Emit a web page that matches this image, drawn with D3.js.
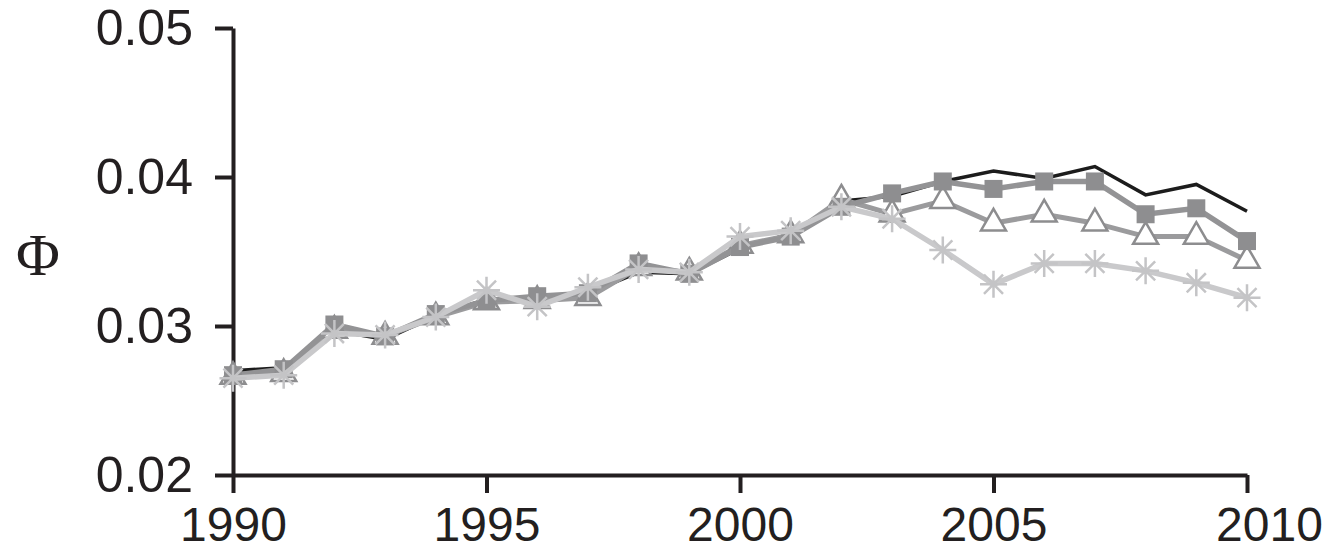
<!DOCTYPE html>
<html>
<head>
<meta charset="utf-8">
<script src="https://cdn.jsdelivr.net/npm/d3@7"></script>
<style>
html,body{margin:0;padding:0;background:#fff;}
svg{display:block;}
</style>
</head>
<body>
<svg id="chart" width="1334" height="552"></svg>
<script>
const years = d3.range(1990, 2011);
const seriesBlack = [0.0270,0.0272,0.0297,0.0291,0.0307,0.0318,0.0318,0.0322,0.0336,0.0335,0.0352,0.0362,0.0384,0.0387,0.0397,0.0404,0.0399,0.0407,0.0388,0.0395,0.0377];
const seriesSquare = [0.0267,0.0271,0.0301,0.0293,0.0308,0.0317,0.0320,0.0322,0.0342,0.0335,0.0353,0.0360,0.0380,0.0389,0.0397,0.0392,0.0397,0.0397,0.0375,0.0379,0.0357];
const seriesTriangle = [0.0266,0.0268,0.0297,0.0293,0.0306,0.0316,0.0317,0.0319,0.0339,0.0336,0.0354,0.0361,0.0385,0.0375,0.0384,0.0369,0.0375,0.0369,0.0360,0.0360,0.0344];
const seriesStar = [0.0265,0.0267,0.0295,0.0294,0.0306,0.0324,0.0313,0.0326,0.0338,0.0336,0.0360,0.0364,0.0380,0.0372,0.0351,0.0328,0.0342,0.0342,0.0337,0.0329,0.0319];
const xTicks = [1990,1995,2000,2005,2010];
const yTicks = [0.02,0.03,0.04,0.05];
const yLabel = "Φ";

const svg = d3.select("#chart");
const x = d3.scaleLinear().domain([1990,2010]).range([233,1247]);
const y = d3.scaleLinear().domain([0.02,0.05]).range([475,28]);

const fontAxis = "'Liberation Sans', Arial, sans-serif";
const ink = "#231f20";

// axes
const yAxis = d3.axisLeft(y).tickValues(yTicks).tickFormat(d3.format(".2f")).tickSize(18).tickSizeOuter(0).tickPadding(22);
const gy = svg.append("g").attr("transform","translate(233,0)").call(yAxis);
const xAxis = d3.axisBottom(x).tickValues(xTicks).tickFormat(d3.format("d")).tickSize(18).tickSizeOuter(0).tickPadding(14);
const gx = svg.append("g").attr("transform","translate(0,475)").call(xAxis);
[gx, gy].forEach(g => {
  g.selectAll(".domain").attr("stroke",ink).attr("stroke-width",4);
  g.selectAll(".tick line").attr("stroke",ink).attr("stroke-width",4);
  g.selectAll(".tick text").attr("fill",ink).style("font-family",fontAxis);
});
gy.selectAll(".tick text").style("font-size","50px");
gx.selectAll(".tick text").style("font-size","48px");
// last year label sits slightly right of its tick in the reference
gx.selectAll(".tick text").filter(d => d === 2010).attr("x", 22);

svg.append("text").attr("x",38).attr("y",255).attr("text-anchor","middle").attr("dominant-baseline","central")
  .style("font-family","'Liberation Serif','Times New Roman',serif").style("font-size","60px").attr("fill",ink).text(yLabel);

const line = d3.line().x((d,i)=>x(years[i])).y(d=>y(d));

// black
svg.append("path").datum(seriesBlack).attr("d",line).attr("fill","none").attr("stroke","#1c1c1c").attr("stroke-width",3.5);

// triangles
svg.append("path").datum(seriesTriangle).attr("d",line).attr("fill","none").attr("stroke","#9b9b9d").attr("stroke-width",5);
const tri = d3.symbol().type(d3.symbolTriangle).size(270);
svg.append("g").selectAll("path").data(seriesTriangle).join("path")
  .attr("d",tri).attr("transform",(d,i)=>`translate(${x(years[i])},${y(d)})`)
  .attr("fill","#fff").attr("stroke","#8d8d8f").attr("stroke-width",2.5);

// squares
svg.append("path").datum(seriesSquare).attr("d",line).attr("fill","none").attr("stroke","#939395").attr("stroke-width",5.5);
svg.append("g").selectAll("rect").data(seriesSquare).join("rect")
  .attr("x",(d,i)=>x(years[i])-9).attr("y",d=>y(d)-9).attr("width",18).attr("height",18)
  .attr("fill","#8e8e90");

// asterisks
svg.append("path").datum(seriesStar).attr("d",line).attr("fill","none").attr("stroke","#c9c9cb").attr("stroke-width",5.5);
const r = 13.5;
const starPath = (() => {
  let p = "";
  for (let k=0;k<4;k++){
    const a = k*Math.PI/4;
    p += `M${-r*Math.cos(a)},${-r*Math.sin(a)}L${r*Math.cos(a)},${r*Math.sin(a)}`;
  }
  return p;
})();
svg.append("g").selectAll("path").data(seriesStar).join("path")
  .attr("d",starPath).attr("transform",(d,i)=>`translate(${x(years[i])},${y(d)})`)
  .attr("fill","none").attr("stroke","#c4c4c6").attr("stroke-width",2.5);
</script>
</body>
</html>
